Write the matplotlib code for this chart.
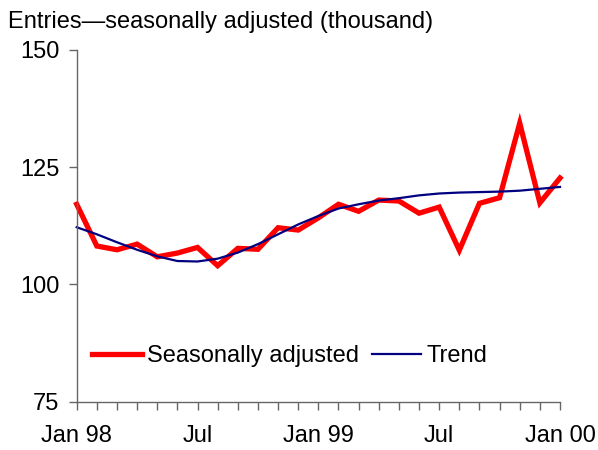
import matplotlib
matplotlib.use("Agg")
import matplotlib.pyplot as plt
from matplotlib.lines import Line2D

plt.rcParams['font.family'] = ['Liberation Sans', 'DejaVu Sans']

months = list(range(25))
seasonally_adjusted = [117.1, 108.2, 107.4, 108.6, 105.9, 106.7, 107.9, 104.0, 107.7, 107.5,
                       112.1, 111.6, 114.2, 117.1, 115.6, 118.0, 117.8, 115.2, 116.5, 107.3,
                       117.3, 118.5, 134.4, 117.4, 122.7]
trend = [112.2, 110.7, 109.0, 107.4, 106.0, 105.0, 104.9, 105.5, 106.8, 108.6,
         110.7, 112.8, 114.6, 116.2, 117.1, 117.9, 118.4, 119.0, 119.4, 119.6,
         119.7, 119.8, 120.0, 120.4, 120.8]
xtick_pos = [0, 6, 12, 18, 24]
xtick_labels = ["Jan 98", "Jul", "Jan 99", "Jul", "Jan 00"]
ytick_vals = [75, 100, 125, 150]

FS = 17
fig = plt.figure(figsize=(5.98, 4.5), dpi=100)
ax = fig.add_axes([76.7/598, 1-401.7/450, 483.3/598, 351.7/450])

ax.plot(months, seasonally_adjusted, color='#ff0000', lw=3.8, solid_joinstyle='miter', clip_on=False)
ax.plot(months, trend, color='#000080', lw=1.6, clip_on=False)

ax.set_xlim(0, 24)
ax.set_ylim(75, 150)
for s in ['top', 'right']:
    ax.spines[s].set_visible(False)
for s in ['left', 'bottom']:
    ax.spines[s].set_color('#666666')
    ax.spines[s].set_linewidth(1.0)

ax.set_yticks(ytick_vals)
ax.set_yticklabels([str(v) for v in ytick_vals], fontsize=FS)
ax.set_xticks(xtick_pos)
ax.set_xticklabels(xtick_labels, fontsize=FS)
ax.set_xticks([m for m in months if m not in xtick_pos], minor=True)
ax.tick_params(axis='y', length=5.5, width=1, color='#666666', pad=7)
ax.tick_params(axis='x', which='both', length=5.5, width=1, color='#666666', pad=11)

fig.text(8/598, 1-22/450, "Entries\u2014seasonally adjusted (thousand)", fontsize=FS, ha='left', va='center')

handles = [Line2D([], [], color='#ff0000', lw=3.8), Line2D([], [], color='#000080', lw=1.6)]
leg = ax.legend(handles, ["Seasonally adjusted", "Trend"], ncol=2, frameon=False, fontsize=FS,
                loc='center', bbox_to_anchor=(0.441, 0.13), handlelength=2.1,
                handletextpad=0.22, columnspacing=0.55, borderpad=0, borderaxespad=0)

fig.savefig("out.png", dpi=100)
